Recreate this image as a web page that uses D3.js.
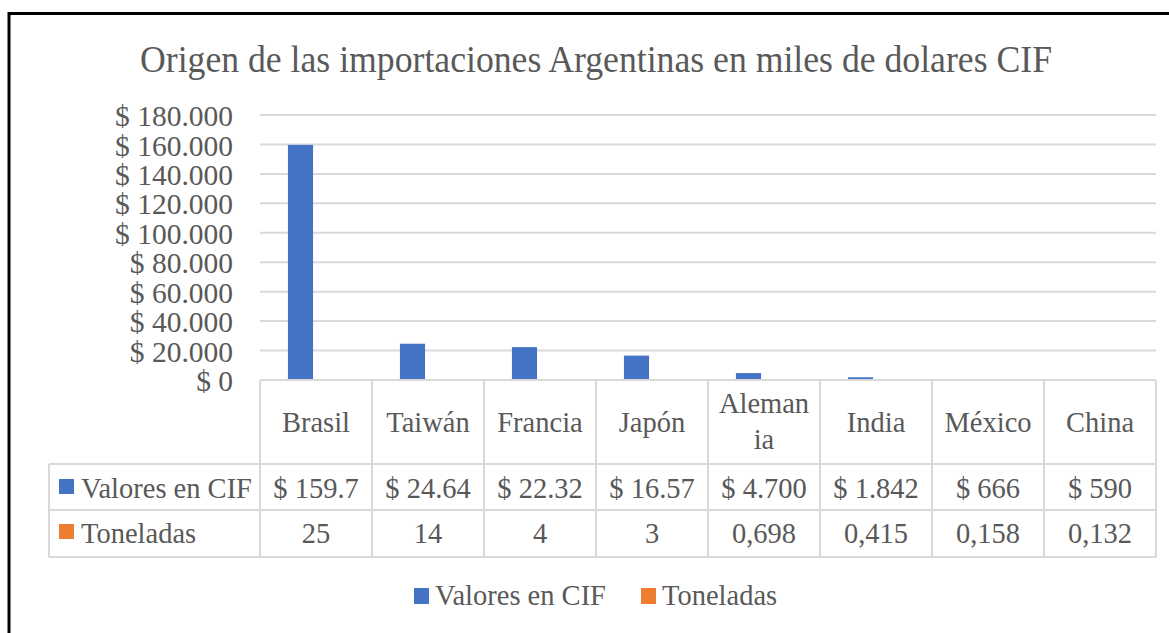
<!DOCTYPE html>
<html>
<head>
<meta charset="utf-8">
<script src="https://cdn.jsdelivr.net/npm/d3@7"></script>
<style>
body{margin:0;background:#fff}
svg{display:block}
text{font-family:"Liberation Serif","DejaVu Serif",serif;fill:#595959}
</style>
</head>
<body>
<svg></svg>
<script>
var screen = {width:1169,height:633}
var plot = {left:260,right:1156,top:115,bottom:380}

// data
var categories = ["Brasil","Taiwán","Francia","Japón","Alemania","India","México","China"]
var catLabels = [["Brasil"],["Taiwán"],["Francia"],["Japón"],["Aleman","ia"],["India"],["México"],["China"]]
var series = ["Valores en CIF","Toneladas"]
var valores = [159700,24640,22320,16570,4700,1842,666,590]
var toneladas = [25,14,4,3,0.698,0.415,0.158,0.132]
var valoresLabels = ["$ 159.7","$ 24.64","$ 22.32","$ 16.57","$ 4.700","$ 1.842","$ 666","$ 590"]
var toneladasLabels = ["25","14","4","3","0,698","0,415","0,158","0,132"]
var yTicks = [0,20000,40000,60000,80000,100000,120000,140000,160000,180000]
var colors = ["#4472C4","#ED7D31"]

var svg = d3.select("svg")
    .attr("width",screen.width)
    .attr("height",screen.height)

//outer frame (cut off at right and bottom in the picture)
svg.append("rect")
    .attr("x",9).attr("y",13.5)
    .attr("width",1300).attr("height",700)
    .attr("fill","none").attr("stroke","#000").attr("stroke-width",3)

var locale = d3.formatLocale({decimal:",",thousands:".",grouping:[3],currency:["$",""]})
var fmt = locale.format(",")

var yScale = d3.scaleLinear()
    .domain([0,180000])
    .range([plot.bottom,plot.top])

var x0 = d3.scaleBand()
    .domain(categories)
    .range([plot.left,plot.right])

var x1 = d3.scaleBand()
    .domain(series)
    .range([0,x0.bandwidth()])
    .paddingInner(0.19)
    .paddingOuter(0.9)

//title
svg.append("text")
    .attr("x",596).attr("y",72)
    .attr("text-anchor","middle")
    .attr("textLength",912)
    .attr("lengthAdjust","spacingAndGlyphs")
    .style("font-size","37px")
    .text("Origen de las importaciones Argentinas en miles de dolares CIF")

//gridlines
svg.append("g")
    .selectAll("line")
    .data(yTicks)
    .enter()
    .append("line")
    .attr("x1",plot.left).attr("x2",plot.right)
    .attr("y1",function(d){return yScale(d)})
    .attr("y2",function(d){return yScale(d)})
    .attr("stroke","#D9D9D9").attr("stroke-width",2)

//y axis labels
var yAxis = d3.axisLeft(yScale)
    .tickValues(yTicks)
    .tickSize(0)
    .tickPadding(0)
    .tickFormat(function(d){return "$ "+fmt(d)})
var ya = svg.append("g")
    .attr("transform","translate(233,0)")
    .call(yAxis)
ya.select(".domain").remove()
ya.selectAll("text")
    .style("font-size","29.5px")
    .style("font-family","Liberation Serif")
    .attr("fill","#595959")
    .attr("dy","0.36em")

//bars
var rows = [valores,toneladas]
var bars = svg.append("g")
series.forEach(function(s,si)
{
    bars.selectAll(".bar"+si)
        .data(categories)
        .enter()
        .append("rect")
        .attr("class","bar"+si)
        .attr("x",function(c){return x0(c)+x1(s)})
        .attr("width",x1.bandwidth())
        .attr("y",function(c,i){return yScale(rows[si][i])})
        .attr("height",function(c,i){return yScale(0)-yScale(rows[si][i])})
        .attr("fill",colors[si])
})

//data table
var tbl = {left:49,head:380,r1:464,r2:510,r3:557}
var grid = svg.append("g").attr("stroke","#D9D9D9").attr("stroke-width",2)
//horizontal lines
grid.append("line").attr("x1",plot.left).attr("x2",plot.right).attr("y1",tbl.head).attr("y2",tbl.head)
;[tbl.r1,tbl.r2,tbl.r3].forEach(function(y)
{
    grid.append("line").attr("x1",tbl.left).attr("x2",plot.right).attr("y1",y).attr("y2",y)
})
//vertical lines
var edges = categories.map(function(c){return x0(c)}).concat([plot.right])
grid.selectAll(".v")
    .data(edges)
    .enter()
    .append("line")
    .attr("x1",function(d){return d}).attr("x2",function(d){return d})
    .attr("y1",tbl.head).attr("y2",tbl.r3)
grid.append("line").attr("x1",tbl.left).attr("x2",tbl.left).attr("y1",tbl.r1).attr("y2",tbl.r3)

//header cells
var head = svg.append("g")
categories.forEach(function(c,i)
{
    var lines = catLabels[i]
    var cx = x0(c)+x0.bandwidth()/2
    var t = head.append("text")
        .attr("text-anchor","middle")
        .style("font-size","28.5px")
    var y0 = lines.length==1 ? 432 : 413
    lines.forEach(function(l,j)
    {
        t.append("tspan").attr("x",cx).attr("y",y0+j*36).text(l)
    })
})

//value rows
var rowLabels = [valoresLabels,toneladasLabels]
var rowBase = [498,543]
rowLabels.forEach(function(labels,ri)
{
    svg.append("g")
        .selectAll("text")
        .data(categories)
        .enter()
        .append("text")
        .attr("x",function(c){return x0(c)+x0.bandwidth()/2})
        .attr("y",rowBase[ri])
        .attr("text-anchor","middle")
        .style("font-size","28.5px")
        .text(function(c,i){return labels[i]})
    //row key
    svg.append("rect")
        .attr("x",59).attr("y",rowBase[ri]-19)
        .attr("width",15).attr("height",15)
        .attr("fill",colors[ri])
    svg.append("text")
        .attr("x",81).attr("y",rowBase[ri])
        .style("font-size","28.5px")
        .text(series[ri])
})

//legend
var legendX = [414,641]
series.forEach(function(s,i)
{
    svg.append("rect")
        .attr("x",legendX[i]).attr("y",588)
        .attr("width",15).attr("height",16)
        .attr("fill",colors[i])
    svg.append("text")
        .attr("x",legendX[i]+21).attr("y",605)
        .style("font-size","28.5px")
        .text(s)
})
</script>
</body>
</html>
